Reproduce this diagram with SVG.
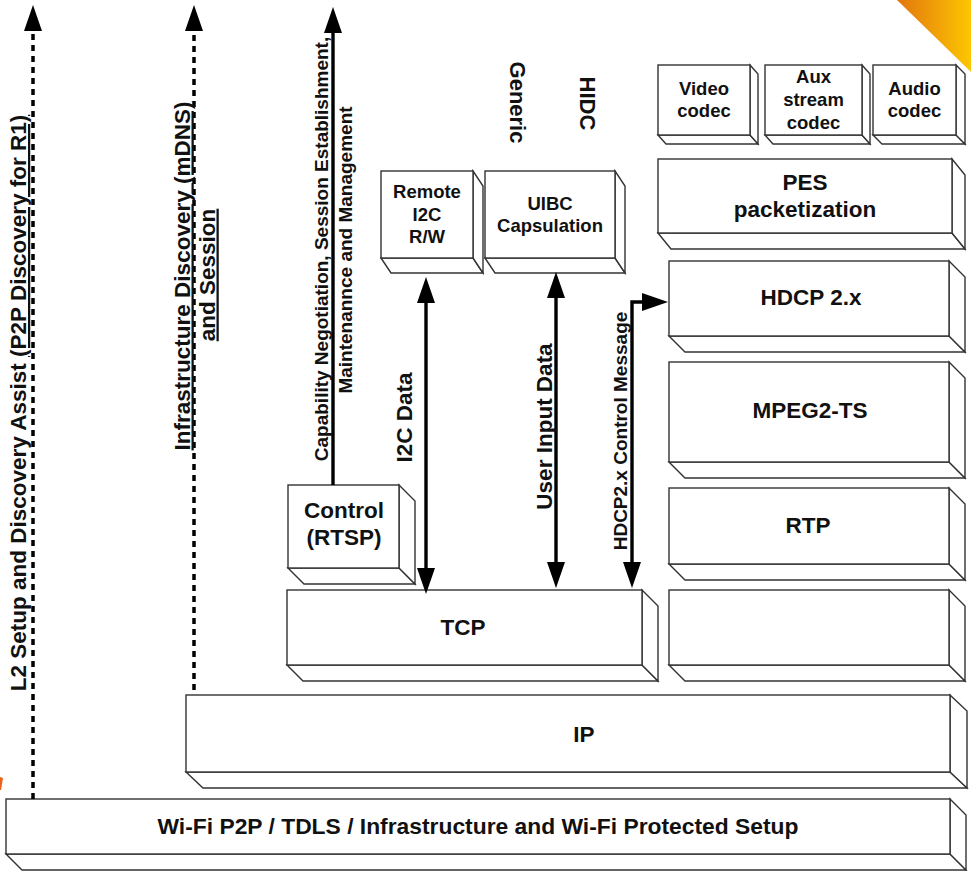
<svg xmlns="http://www.w3.org/2000/svg" width="971" height="871" viewBox="0 0 971 871">
<style>
.box rect,.box polygon{fill:#fff;stroke:#333;stroke-width:1.4;stroke-linejoin:miter}
text{font-family:"Liberation Sans",Arial,sans-serif;font-weight:bold;fill:#111;text-anchor:middle}
.t22{font-size:22.5px}
.t19{font-size:19px}
.t18{font-size:18.5px}
.dot{fill:none;stroke:#000;stroke-width:3.5;stroke-dasharray:6 5}
.sol{fill:none;stroke:#000;stroke-width:3.4}
.ul{text-decoration:underline}
</style>
<defs>
<marker id="ah" viewBox="0 0 26 18" refX="8" refY="9" markerWidth="26" markerHeight="18" markerUnits="userSpaceOnUse" orient="auto-start-reverse"><path d="M0,0 L26,9 L0,18 z" fill="#000"/></marker>
<linearGradient id="og" x1="0" y1="0" x2="1" y2="0"><stop offset="0" stop-color="#e2760f"/><stop offset="1" stop-color="#fcc600"/></linearGradient>
</defs>
<rect width="971" height="871" fill="#fff"/>
<polygon points="897,0 971,0 971,72" fill="url(#og)"/>
<polygon points="0,777 3,778 1,790 0,790" fill="#e8621a"/>

<g id="video" class="box"><polygon points="658,135 666,144 758,144 750,135"/><polygon points="750,65 758,74 758,144 750,135"/><rect x="658" y="65" width="92" height="70"/><text class="t18" x="704" y="95">Video</text><text class="t18" x="704" y="117">codec</text></g>
<g id="aux" class="box"><polygon points="765,135 773,144 870,144 862,135"/><polygon points="862,65 870,74 870,144 862,135"/><rect x="765" y="65" width="97" height="70"/><text class="t18" x="813.5" y="83">Aux</text><text class="t18" x="813.5" y="106">stream</text><text class="t18" x="813.5" y="129">codec</text></g>
<g id="audio" class="box"><polygon points="873,135 882,144 965,144 956,135"/><polygon points="956,65 965,74 965,144 956,135"/><rect x="873" y="65" width="83" height="70"/><text class="t18" x="914.5" y="95">Audio</text><text class="t18" x="914.5" y="117">codec</text></g>
<g id="pes" class="box"><polygon points="658,233 671,249 965,249 952,233"/><polygon points="952,159 965,175 965,249 952,233"/><rect x="658" y="159" width="294" height="74"/><text class="t22" x="805" y="190">PES</text><text class="t22" x="805" y="217">packetization</text></g>
<g id="hdcp" class="box"><polygon points="669,336 685,352 965,352 949,336"/><polygon points="949,261 965,277 965,352 949,336"/><rect x="669" y="261" width="280" height="75"/><text class="t22" x="811" y="305">HDCP 2.x</text></g>
<g id="mpeg" class="box"><polygon points="669,462 685,478 965,478 949,462"/><polygon points="949,362 965,378 965,478 949,462"/><rect x="669" y="362" width="280" height="100"/><text class="t22" x="810" y="418">MPEG2-TS</text></g>
<g id="rtp" class="box"><polygon points="669,564 685,580 965,580 949,564"/><polygon points="949,488 965,504 965,580 949,564"/><rect x="669" y="488" width="280" height="76"/><text class="t22" x="808" y="533">RTP</text></g>
<g id="empty" class="box"><polygon points="669,665 685,681 965,681 949,665"/><polygon points="949,590 965,606 965,681 949,665"/><rect x="669" y="590" width="280" height="75"/></g>
<g id="tcp" class="box"><polygon points="287,665 303,681 658,681 642,665"/><polygon points="642,590 658,606 658,681 642,665"/><rect x="287" y="590" width="355" height="75"/><text class="t22" x="463" y="635">TCP</text></g>
<g id="control" class="box"><polygon points="288,568 304,584 415,584 399,568"/><polygon points="399,485 415,501 415,584 399,568"/><rect x="288" y="485" width="111" height="83"/><text class="t22" x="344" y="518">Control</text><text class="t22" x="344" y="545">(RTSP)</text></g>
<g id="remote" class="box"><polygon points="381,258 391,273 483,273 473,258"/><polygon points="473,171 483,186 483,273 473,258"/><rect x="381" y="171" width="92" height="87"/><text class="t18" x="427" y="198">Remote</text><text class="t18" x="427" y="221">I2C</text><text class="t18" x="427" y="243">R/W</text></g>
<g id="uibc" class="box"><polygon points="485,258 495,273 625,273 615,258"/><polygon points="615,171 625,186 625,273 615,258"/><rect x="485" y="171" width="130" height="87"/><text class="t18" x="550" y="210">UIBC</text><text class="t18" x="550" y="232">Capsulation</text></g>
<g id="ip" class="box"><polygon points="186,772 203,788 967,788 950,772"/><polygon points="950,695 967,711 967,788 950,772"/><rect x="186" y="695" width="764" height="77"/><text class="t22" x="584" y="742">IP</text></g>
<g id="wifi" class="box"><polygon points="6,854 22,870 966,870 950,854"/><polygon points="950,799 966,815 966,870 950,854"/><rect x="6" y="799" width="944" height="55"/><text class="t22" x="478" y="834" textLength="641" lengthAdjust="spacingAndGlyphs">Wi-Fi P2P / TDLS / Infrastructure and Wi-Fi Protected Setup</text></g>

<g id="connectors">
<path class="dot" d="M33,799 L33,23" marker-end="url(#ah)"/>
<path class="dot" d="M194,690 L194,23" marker-end="url(#ah)"/>
<path class="sol" d="M333,485 L333,25" marker-end="url(#ah)"/>
<path class="sol" d="M426,295 L426,576" marker-start="url(#ah)" marker-end="url(#ah)"/>
<path class="sol" d="M556,290 L556,570" marker-start="url(#ah)" marker-end="url(#ah)"/>
<path class="sol" d="M632,570 L632,302 L650,302" marker-start="url(#ah)" marker-end="url(#ah)"/>
</g>

<g id="labels">
<text class="t22" transform="translate(26,403) rotate(-90)">L2 Setup and Discovery Assist <tspan class="ul">(P2P Discovery for R1)</tspan></text>
<text class="t22 ul" transform="translate(189.5,276) rotate(-90)">Infrastructure Discovery (mDNS)</text>
<text class="t22 ul" transform="translate(214.5,275) rotate(-90)">and Session</text>
<text class="t19" transform="translate(328,249) rotate(-90)">Capability Negotiation, Session Establishment,</text>
<text class="t19" transform="translate(352,250) rotate(-90)">Maintenannce and Management</text>
<text class="t22" transform="translate(412,417.5) rotate(-90)">I2C Data</text>
<text class="t22" transform="translate(552,426.5) rotate(-90)">User Input Data</text>
<text class="t19" transform="translate(627,431) rotate(-90)">HDCP2.x Control Message</text>
<text class="t22" transform="translate(510,102.5) rotate(90)" style="font-size:22px">Generic</text>
<text class="t22" transform="translate(580,103.5) rotate(90)" style="font-size:22px">HIDC</text>
</g>
</svg>
